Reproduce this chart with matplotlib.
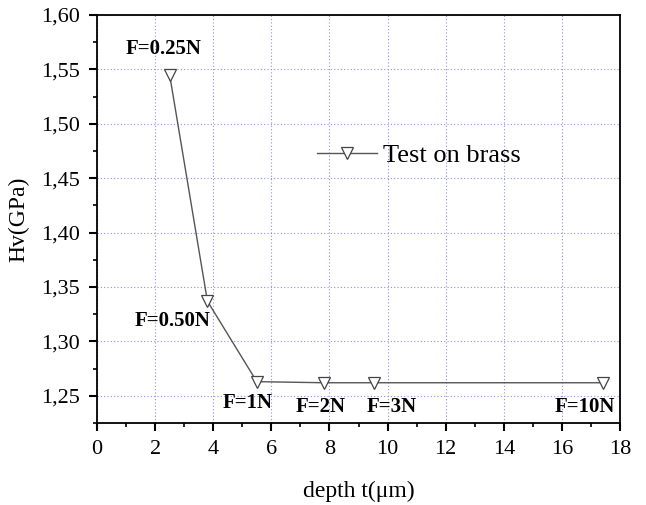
import matplotlib
matplotlib.use("Agg")
import matplotlib.pyplot as plt
from matplotlib.ticker import MultipleLocator, FuncFormatter

plt.rcParams['font.family'] = ['Liberation Serif', 'DejaVu Serif']

# data
depth = [2.5, 3.8, 5.5, 7.8, 9.55, 17.4]
hv = [1.545, 1.337, 1.263, 1.262, 1.262, 1.262]
loads = ['F=0.25N', 'F=0.50N', 'F=1N', 'F=2N', 'F=3N', 'F=10N']
# label offsets in data units (dx, dy)
offsets = [(-0.2, 0.024), (-1.2, -0.018), (-0.3, -0.02), (-0.1, -0.022), (0.6, -0.022), (-0.6, -0.022)]

fig = plt.figure(figsize=(6.46, 5.05), dpi=100)
ax = fig.add_axes([97/646, 1 - 423/505, 523/646, 408/505])

ax.plot(depth, hv, color='#555555', lw=1, marker='v', markersize=8,
        markerfacecolor='white', markeredgecolor='#444444', markeredgewidth=0.9,
        label='Test on brass')

for x, y, s, (dx, dy) in zip(depth, hv, loads, offsets):
    ax.text(x + dx, y + dy, s, ha='center', va='center', fontsize=15, fontweight='bold')

ax.set_xlim(0, 18)
ax.set_ylim(1.225, 1.60)
ax.xaxis.set_major_locator(MultipleLocator(2))
ax.xaxis.set_minor_locator(MultipleLocator(1))
ax.yaxis.set_major_locator(MultipleLocator(0.05))
ax.yaxis.set_minor_locator(MultipleLocator(0.025))
ax.yaxis.set_major_formatter(FuncFormatter(lambda v, p: f'{v:.2f}'.replace('.', ',')))

ax.grid(True, which='major', color='#9090e8', linestyle=(0, (1, 2)), lw=0.8)
ax.tick_params(which='major', length=6, width=1.5, labelsize=16, direction='out', pad=6)
ax.tick_params(which='minor', length=3, width=1.2, direction='out')
for sp in ax.spines.values():
    sp.set_linewidth(1.3)

ax.set_xlabel('depth t(\u03bcm)', fontsize=17, labelpad=16)
ax.set_ylabel('Hv(GPa)', fontsize=17, labelpad=9)

ax.legend(loc='center left', bbox_to_anchor=(0.42, 0.655), frameon=False, fontsize=19,
          handlelength=2.3, handletextpad=0.2, borderpad=0, borderaxespad=0)

fig.savefig('out.png', dpi=100)
